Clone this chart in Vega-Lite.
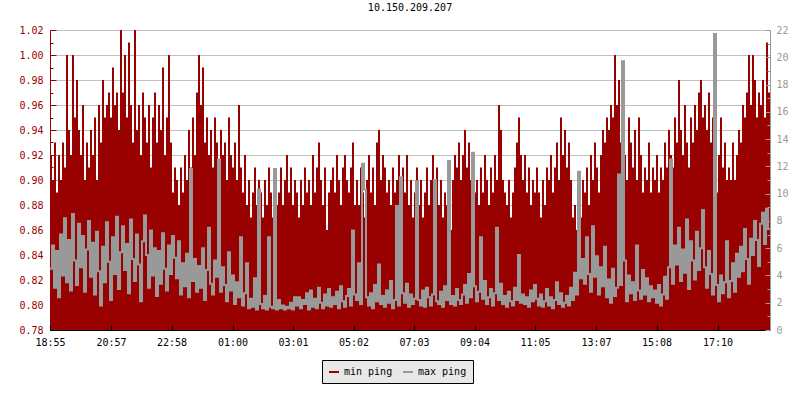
{
"$schema": "https://vega.github.io/schema/vega-lite/v6.json",
"width": 720, "height": 300,
"autosize": {"type": "none"},
"padding": {"left": 50, "top": 30, "right": 30, "bottom": 70},
"background": "white",
"title": {"text": "10.150.209.207", "font": "DejaVu Sans Mono", "fontSize": 10, "fontWeight": "normal", "color": "black", "offset": 12, "anchor": "middle"},
"data": {"values": [
{"t":0,"a":0.92,"b":4.5},{"t":4,"a":0.90,"b":6.2},{"t":8,"a":0.93,"b":3.1},{"t":12,"a":0.89,"b":5.8},{"t":16,"a":0.92,"b":2.4},{"t":20,"a":0.90,"b":7.0},
{"t":24,"a":0.93,"b":4.0},{"t":28,"a":0.91,"b":8.2},{"t":32,"a":1.00,"b":3.5},{"t":36,"a":0.94,"b":6.6},{"t":40,"a":0.92,"b":2.9},{"t":44,"a":1.00,"b":8.5},
{"t":48,"a":0.95,"b":5.1},{"t":52,"a":0.98,"b":3.3},{"t":56,"a":0.94,"b":7.8},{"t":60,"a":0.92,"b":4.6},{"t":64,"a":0.96,"b":6.9},{"t":68,"a":0.90,"b":2.8},
{"t":72,"a":0.93,"b":5.9},{"t":76,"a":0.91,"b":8.0},{"t":80,"a":0.94,"b":3.9},{"t":84,"a":0.92,"b":6.4},{"t":88,"a":0.95,"b":2.6},{"t":92,"a":0.90,"b":7.2},
{"t":96,"a":0.96,"b":4.3},{"t":100,"a":0.93,"b":1.8},{"t":104,"a":0.98,"b":6.1},{"t":108,"a":0.95,"b":3.5},{"t":112,"a":0.96,"b":7.9},{"t":116,"a":0.97,"b":5.0},
{"t":120,"a":0.95,"b":2.2},{"t":124,"a":0.99,"b":6.8},{"t":128,"a":0.96,"b":4.1},{"t":132,"a":0.97,"b":8.3},{"t":136,"a":0.94,"b":3.0},{"t":140,"a":1.02,"b":5.7},
{"t":144,"a":0.97,"b":7.6},{"t":148,"a":1.00,"b":4.4},{"t":152,"a":0.95,"b":6.3},{"t":156,"a":1.01,"b":2.7},{"t":160,"a":0.96,"b":8.1},{"t":164,"a":0.93,"b":5.2},
{"t":168,"a":1.02,"b":3.6},{"t":172,"a":0.94,"b":7.0},{"t":176,"a":0.96,"b":4.8},{"t":180,"a":0.92,"b":2.1},{"t":184,"a":0.97,"b":6.5},{"t":188,"a":0.95,"b":8.4},
{"t":192,"a":0.93,"b":5.5},{"t":196,"a":0.96,"b":3.1},{"t":200,"a":0.91,"b":7.3},{"t":204,"a":0.95,"b":4.0},{"t":208,"a":0.97,"b":6.0},{"t":212,"a":0.93,"b":2.5},
{"t":216,"a":0.96,"b":5.8},{"t":220,"a":0.94,"b":3.4},{"t":224,"a":0.99,"b":7.1},{"t":228,"a":0.92,"b":4.5},{"t":232,"a":0.95,"b":2.9},{"t":236,"a":1.00,"b":6.2},
{"t":240,"a":0.93,"b":4.1},{"t":244,"a":0.89,"b":6.9},{"t":248,"a":0.91,"b":5.3},{"t":252,"a":0.90,"b":3.8},{"t":256,"a":0.88,"b":6.5},{"t":260,"a":0.91,"b":2.6},
{"t":264,"a":0.89,"b":4.9},{"t":268,"a":0.92,"b":3.2},{"t":272,"a":0.90,"b":5.6},{"t":276,"a":0.94,"b":2.4},{"t":280,"a":0.91,"b":11.8},{"t":284,"a":0.95,"b":3.6},
{"t":288,"a":0.92,"b":5.2},{"t":292,"a":0.97,"b":2.8},{"t":296,"a":1.00,"b":4.7},{"t":300,"a":0.96,"b":3.1},{"t":304,"a":0.99,"b":6.0},{"t":308,"a":0.93,"b":2.2},
{"t":312,"a":0.95,"b":4.4},{"t":316,"a":0.92,"b":7.5},{"t":320,"a":0.94,"b":3.4},{"t":324,"a":0.91,"b":2.6},{"t":328,"a":0.95,"b":5.1},{"t":332,"a":0.93,"b":3.9},
{"t":336,"a":0.90,"b":12.5},{"t":340,"a":0.94,"b":2.8},{"t":344,"a":0.92,"b":4.6},{"t":348,"a":0.93,"b":3.3},{"t":352,"a":0.90,"b":2.1},{"t":356,"a":0.95,"b":5.7},
{"t":360,"a":0.92,"b":2.9},{"t":364,"a":0.91,"b":4.0},{"t":368,"a":0.93,"b":1.9},{"t":372,"a":0.90,"b":3.5},{"t":376,"a":0.96,"b":2.4},{"t":380,"a":0.91,"b":6.8},
{"t":384,"a":0.89,"b":1.8},{"t":388,"a":0.92,"b":2.7},{"t":392,"a":0.88,"b":4.9},{"t":396,"a":0.90,"b":1.6},{"t":400,"a":0.87,"b":2.3},{"t":404,"a":0.89,"b":1.7},
{"t":408,"a":0.91,"b":3.8},{"t":412,"a":0.88,"b":1.5},{"t":416,"a":0.90,"b":10.3},{"t":420,"a":0.89,"b":1.9},{"t":424,"a":0.87,"b":1.6},{"t":428,"a":0.90,"b":2.5},
{"t":432,"a":0.88,"b":1.5},{"t":436,"a":0.91,"b":6.8},{"t":440,"a":0.89,"b":1.7},{"t":444,"a":0.87,"b":1.6},{"t":448,"a":0.90,"b":11.8},{"t":452,"a":0.88,"b":1.5},
{"t":456,"a":0.89,"b":2.2},{"t":460,"a":0.91,"b":1.6},{"t":464,"a":0.88,"b":1.8},{"t":468,"a":0.90,"b":1.5},{"t":472,"a":0.92,"b":1.7},{"t":476,"a":0.89,"b":1.6},
{"t":480,"a":0.91,"b":2.0},{"t":484,"a":0.88,"b":1.5},{"t":488,"a":0.90,"b":2.4},{"t":492,"a":0.89,"b":1.8},{"t":496,"a":0.87,"b":2.4},{"t":500,"a":0.90,"b":1.6},
{"t":504,"a":0.88,"b":2.2},{"t":508,"a":0.91,"b":1.9},{"t":512,"a":0.89,"b":2.7},{"t":516,"a":0.90,"b":1.5},{"t":520,"a":0.88,"b":2.9},{"t":524,"a":0.92,"b":1.7},
{"t":528,"a":0.89,"b":2.3},{"t":532,"a":0.91,"b":1.6},{"t":536,"a":0.93,"b":3.1},{"t":540,"a":0.90,"b":2.0},{"t":544,"a":0.88,"b":1.6},{"t":548,"a":0.91,"b":2.6},
{"t":552,"a":0.86,"b":1.8},{"t":556,"a":0.89,"b":3.0},{"t":560,"a":0.90,"b":1.7},{"t":564,"a":0.91,"b":2.4},{"t":568,"a":0.89,"b":1.9},{"t":572,"a":0.92,"b":2.8},
{"t":576,"a":0.90,"b":1.6},{"t":580,"a":0.88,"b":3.2},{"t":584,"a":0.91,"b":2.1},{"t":588,"a":0.92,"b":1.7},{"t":592,"a":0.90,"b":2.5},{"t":596,"a":0.89,"b":3.0},
{"t":600,"a":0.91,"b":1.8},{"t":604,"a":0.93,"b":7.3},{"t":608,"a":0.88,"b":2.6},{"t":612,"a":0.90,"b":2.2},{"t":616,"a":0.88,"b":4.9},{"t":620,"a":0.91,"b":1.9},
{"t":624,"a":0.89,"b":12.2},{"t":628,"a":0.87,"b":10.3},{"t":632,"a":0.90,"b":2.4},{"t":636,"a":0.92,"b":1.8},{"t":640,"a":0.89,"b":2.7},{"t":644,"a":0.91,"b":1.6},
{"t":648,"a":0.88,"b":3.3},{"t":652,"a":0.93,"b":2.1},{"t":656,"a":0.94,"b":4.8},{"t":660,"a":0.90,"b":1.9},{"t":664,"a":0.92,"b":2.5},{"t":668,"a":0.91,"b":1.7},
{"t":672,"a":0.89,"b":2.9},{"t":676,"a":0.90,"b":2.0},{"t":680,"a":0.88,"b":3.6},{"t":684,"a":0.91,"b":1.6},{"t":688,"a":0.89,"b":2.2},{"t":692,"a":0.90,"b":9.1},
{"t":696,"a":0.92,"b":1.8},{"t":700,"a":0.88,"b":11.2},{"t":704,"a":0.91,"b":2.7},{"t":708,"a":0.89,"b":2.0},{"t":712,"a":0.92,"b":3.4},{"t":716,"a":0.88,"b":1.7},
{"t":720,"a":0.90,"b":2.6},{"t":724,"a":0.87,"b":1.9},{"t":728,"a":0.89,"b":2.3},{"t":732,"a":0.91,"b":10.9},{"t":736,"a":0.88,"b":2.2},{"t":740,"a":0.90,"b":1.8},
{"t":744,"a":0.87,"b":2.9},{"t":748,"a":0.89,"b":1.7},{"t":752,"a":0.91,"b":3.1},{"t":756,"a":0.88,"b":2.4},{"t":760,"a":0.90,"b":1.8},{"t":764,"a":0.92,"b":2.6},
{"t":768,"a":0.89,"b":11.0},{"t":772,"a":0.91,"b":2.1},{"t":776,"a":0.88,"b":1.9},{"t":780,"a":0.90,"b":2.8},{"t":784,"a":0.87,"b":1.7},{"t":788,"a":0.89,"b":3.2},
{"t":792,"a":0.88,"b":2.2},{"t":796,"a":0.90,"b":12.4},{"t":800,"a":0.86,"b":1.9},{"t":804,"a":0.90,"b":2.5},{"t":808,"a":0.92,"b":1.8},{"t":812,"a":0.91,"b":3.0},
{"t":816,"a":0.93,"b":2.2},{"t":820,"a":0.90,"b":1.9},{"t":824,"a":0.92,"b":2.6},{"t":828,"a":0.94,"b":3.3},{"t":832,"a":0.91,"b":2.0},{"t":836,"a":0.93,"b":4.1},
{"t":840,"a":0.90,"b":2.4},{"t":844,"a":0.92,"b":13.0},{"t":848,"a":0.89,"b":3.2},{"t":852,"a":0.90,"b":2.1},{"t":856,"a":0.88,"b":2.8},{"t":860,"a":0.91,"b":6.8},
{"t":864,"a":0.89,"b":2.3},{"t":868,"a":0.92,"b":3.6},{"t":872,"a":0.90,"b":1.9},{"t":876,"a":0.88,"b":2.4},{"t":880,"a":0.91,"b":3.0},{"t":884,"a":0.89,"b":1.8},
{"t":888,"a":0.92,"b":2.7},{"t":892,"a":0.90,"b":7.5},{"t":896,"a":0.96,"b":2.2},{"t":900,"a":0.94,"b":3.4},{"t":904,"a":0.90,"b":1.9},{"t":908,"a":0.89,"b":2.5},
{"t":912,"a":0.88,"b":1.7},{"t":916,"a":0.90,"b":2.8},{"t":920,"a":0.87,"b":2.1},{"t":924,"a":0.89,"b":1.8},{"t":928,"a":0.91,"b":3.1},{"t":932,"a":0.93,"b":2.2},
{"t":936,"a":0.95,"b":5.5},{"t":940,"a":0.92,"b":2.0},{"t":944,"a":0.90,"b":2.6},{"t":948,"a":0.92,"b":1.9},{"t":952,"a":0.89,"b":2.4},{"t":956,"a":0.91,"b":1.7},
{"t":960,"a":0.88,"b":2.9},{"t":964,"a":0.90,"b":2.1},{"t":968,"a":0.89,"b":3.3},{"t":972,"a":0.91,"b":2.3},{"t":976,"a":0.89,"b":1.8},{"t":980,"a":0.87,"b":2.6},
{"t":984,"a":0.90,"b":1.7},{"t":988,"a":0.88,"b":2.1},{"t":992,"a":0.91,"b":3.0},{"t":996,"a":0.90,"b":1.8},{"t":1000,"a":0.92,"b":2.4},{"t":1004,"a":0.89,"b":1.6},
{"t":1008,"a":0.91,"b":2.2},{"t":1012,"a":0.93,"b":3.5},{"t":1016,"a":0.90,"b":1.9},{"t":1020,"a":0.95,"b":2.7},{"t":1024,"a":0.92,"b":1.7},{"t":1028,"a":0.94,"b":2.0},
{"t":1032,"a":0.91,"b":2.5},{"t":1036,"a":0.93,"b":1.8},{"t":1040,"a":0.90,"b":3.1},{"t":1044,"a":0.87,"b":2.2},{"t":1048,"a":0.88,"b":4.2},{"t":1052,"a":0.86,"b":2.6},
{"t":1056,"a":0.89,"b":11.6},{"t":1060,"a":0.87,"b":3.8},{"t":1064,"a":0.90,"b":5.2},{"t":1068,"a":0.89,"b":3.4},{"t":1072,"a":0.91,"b":6.8},{"t":1076,"a":0.88,"b":4.1},
{"t":1080,"a":0.92,"b":2.8},{"t":1084,"a":0.90,"b":7.6},{"t":1088,"a":0.93,"b":3.9},{"t":1092,"a":0.91,"b":5.4},{"t":1096,"a":0.89,"b":2.6},{"t":1100,"a":0.92,"b":4.6},
{"t":1104,"a":0.94,"b":3.2},{"t":1108,"a":0.93,"b":6.1},{"t":1112,"a":0.95,"b":2.4},{"t":1116,"a":0.94,"b":3.7},{"t":1120,"a":0.96,"b":2.0},{"t":1124,"a":0.95,"b":4.5},
{"t":1128,"a":1.00,"b":2.5},{"t":1132,"a":0.96,"b":3.1},{"t":1136,"a":0.98,"b":11.4},{"t":1140,"a":0.93,"b":3.3},{"t":1144,"a":0.96,"b":19.7},{"t":1148,"a":0.92,"b":5.1},
{"t":1152,"a":0.90,"b":2.1},{"t":1156,"a":0.95,"b":4.0},{"t":1160,"a":0.93,"b":2.7},{"t":1164,"a":0.91,"b":3.5},{"t":1168,"a":0.94,"b":2.2},{"t":1172,"a":0.90,"b":6.2},
{"t":1176,"a":0.95,"b":2.9},{"t":1180,"a":0.92,"b":2.3},{"t":1184,"a":0.89,"b":4.4},{"t":1188,"a":0.91,"b":2.6},{"t":1192,"a":0.90,"b":3.8},{"t":1196,"a":0.93,"b":2.1},
{"t":1200,"a":0.89,"b":3.2},{"t":1204,"a":0.91,"b":2.4},{"t":1208,"a":0.90,"b":2.9},{"t":1212,"a":0.92,"b":2.0},{"t":1216,"a":0.89,"b":3.3},{"t":1220,"a":0.91,"b":1.8},
{"t":1224,"a":0.90,"b":2.6},{"t":1228,"a":0.93,"b":3.9},{"t":1232,"a":0.91,"b":2.3},{"t":1236,"a":0.94,"b":4.6},{"t":1240,"a":0.92,"b":12.5},{"t":1244,"a":0.91,"b":3.4},
{"t":1248,"a":0.95,"b":6.2},{"t":1252,"a":0.93,"b":4.8},{"t":1256,"a":0.98,"b":7.5},{"t":1260,"a":0.94,"b":3.6},{"t":1264,"a":0.92,"b":5.9},{"t":1268,"a":0.96,"b":4.2},
{"t":1272,"a":0.93,"b":8.1},{"t":1276,"a":0.91,"b":3.0},{"t":1280,"a":0.95,"b":6.5},{"t":1284,"a":0.93,"b":5.1},{"t":1288,"a":0.96,"b":3.7},{"t":1292,"a":0.94,"b":7.2},
{"t":1296,"a":0.97,"b":4.4},{"t":1300,"a":0.98,"b":6.0},{"t":1304,"a":0.95,"b":8.8},{"t":1308,"a":0.96,"b":4.6},{"t":1312,"a":0.94,"b":3.1},{"t":1316,"a":0.97,"b":5.8},
{"t":1320,"a":0.93,"b":4.1},{"t":1324,"a":0.95,"b":2.6},{"t":1328,"a":0.88,"b":21.7},{"t":1332,"a":0.89,"b":3.3},{"t":1336,"a":0.92,"b":2.1},{"t":1340,"a":0.95,"b":4.0},
{"t":1344,"a":0.91,"b":2.7},{"t":1348,"a":0.93,"b":3.5},{"t":1352,"a":0.90,"b":6.5},{"t":1356,"a":0.91,"b":2.4},{"t":1360,"a":0.90,"b":3.6},{"t":1364,"a":0.93,"b":4.9},
{"t":1368,"a":0.90,"b":2.8},{"t":1372,"a":0.92,"b":5.6},{"t":1376,"a":0.94,"b":3.9},{"t":1380,"a":0.93,"b":6.1},{"t":1384,"a":0.96,"b":4.3},{"t":1388,"a":0.95,"b":7.4},
{"t":1392,"a":0.97,"b":5.2},{"t":1396,"a":1.00,"b":3.4},{"t":1400,"a":0.96,"b":6.7},{"t":1404,"a":1.00,"b":5.5},{"t":1408,"a":0.98,"b":8.0},{"t":1412,"a":0.95,"b":6.6},
{"t":1416,"a":0.97,"b":4.7},{"t":1420,"a":0.96,"b":7.8},{"t":1424,"a":0.98,"b":8.6},{"t":1428,"a":0.95,"b":6.3},{"t":1432,"a":1.01,"b":8.9},{"t":1436,"a":0.97,"b":7.4},
{"t":1440,"a":0.97,"b":7.4}
]},
"encoding": {
  "x": {"field": "t", "type": "quantitative",
    "scale": {"domain": [0, 1440], "nice": false, "zero": false},
    "axis": {"values": [0,122,243,365,486,607,728,849,970,1092,1213,1335],
      "labelExpr": "timeFormat(datetime(2024,0,1,18,55+datum.value),'%H:%M')",
      "title": null, "grid": false, "domainColor": "black", "tickColor": "black", "tickSize": -5,
      "labelColor": "black", "labelFont": "DejaVu Sans Mono", "labelFontSize": 10, "labelPadding": 12,
      "labelFlush": false, "labelOverlap": false, "zindex": 1}}
},
"layer": [
  {"mark": {"type": "area", "interpolate": "step-after", "clip": true},
   "encoding": {
     "y": {"field": "a", "type": "quantitative",
       "scale": {"domain": [0.78, 1.02], "nice": false, "zero": false},
       "axis": {"orient": "left",
         "values": [0.78,0.79,0.80,0.81,0.82,0.83,0.84,0.85,0.86,0.87,0.88,0.89,0.90,0.91,0.92,0.93,0.94,0.95,0.96,0.97,0.98,0.99,1.00,1.01,1.02],
         "labelExpr": "round(datum.value*100)%2==0 ? format(datum.value,'.2f') : ''",
         "title": null, "grid": true, "gridColor": "#c0c0c0",
         "gridOpacity": {"condition": {"test": "round(datum.value*100)%2==1", "value": 0}, "value": 1},
         "tickSize": {"condition": {"test": "round(datum.value*100)%2==1", "value": -3}, "value": -6},
         "domainColor": "#990000", "tickColor": "#990000", "labelColor": "#990000",
         "labelFont": "DejaVu Sans Mono", "labelFontSize": 10, "labelPadding": 13, "labelOverlap": false}},
     "color": {"datum": "min ping", "type": "nominal",
       "scale": {"domain": ["min ping", "max ping"], "range": ["#990000", "#999999"]},
       "legend": {"orient": "none", "legendX": 272, "legendY": 330, "direction": "horizontal", "title": null,
         "fillColor": "#e8e8e8", "strokeColor": "black", "padding": 6,
         "symbolType": "stroke", "symbolSize": 100, "symbolStrokeWidth": 2,
         "labelFont": "DejaVu Sans Mono", "labelFontSize": 10, "labelColor": "black", "labelOffset": 4, "columnPadding": 6,
         "encode": {"symbols": {"update": {"stroke": {"scale": "color", "field": "value"}, "strokeWidth": {"value": 2}}}}}}
   }},
  {"mark": {"type": "line", "interpolate": "step-after", "strokeWidth": 2, "clip": true},
   "encoding": {
     "y": {"field": "b", "type": "quantitative",
       "scale": {"domain": [0, 22], "nice": false, "zero": false},
       "axis": {"orient": "right",
         "values": [0,1,2,3,4,5,6,7,8,9,10,11,12,13,14,15,16,17,18,19,20,21,22],
         "labelExpr": "datum.value%2==0 ? format(datum.value,'d') : ''",
         "title": null, "grid": false,
         "tickSize": {"condition": {"test": "datum.value%2==1", "value": -3}, "value": -5},
         "domainColor": "#999999", "tickColor": "#999999", "labelColor": "#999999",
         "labelFont": "DejaVu Sans Mono", "labelFontSize": 10, "labelPadding": 11, "labelOverlap": false, "zindex": 1}},
     "color": {"datum": "max ping", "type": "nominal"}
   }}
],
"resolve": {"scale": {"y": "independent"}, "axis": {"y": "independent"}},
"config": {"view": {"stroke": null}, "font": "DejaVu Sans Mono"}
}
